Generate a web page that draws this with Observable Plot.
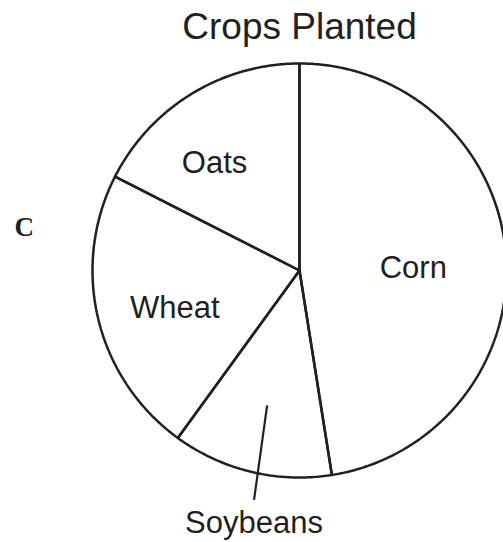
<!DOCTYPE html>
<html><head><meta charset="utf-8">
<script src="https://cdn.jsdelivr.net/npm/d3@7"></script>
<script src="https://cdn.jsdelivr.net/npm/@observablehq/plot@0.6"></script>
<style>body{margin:0;background:#fff}</style>
</head><body><div id="chart"></div>
<script>
// ---- data ----
const title = "Crops Planted";
const panelLetter = "C";
const crops = ["Corn", "Soybeans", "Wheat", "Oats"];
const shares = [47.5, 12.5, 22.5, 17.5];

// ---- geometry derived from data ----
const ink = "#231f20";
const sans = "Liberation Sans, Arial, Helvetica, sans-serif";
const arcs = d3.pie().sort(null)(shares); // clockwise from 12 o'clock
const pt = (a, r) => ({x: r * Math.sin(a), y: r * Math.cos(a)});

const outline = arcs.flatMap((s, i) => {
  const n = Math.max(2, Math.ceil((s.endAngle - s.startAngle) / 0.01));
  const pts = [pt(0, 0)];
  for (let k = 0; k <= n; ++k) pts.push(pt(s.startAngle + (s.endAngle - s.startAngle) * k / n, 1));
  pts.push(pt(0, 0));
  return pts.map(p => ({...p, crop: crops[i]}));
});

const labels = arcs.map((s, i) => ({crop: crops[i], mid: (s.startAngle + s.endAngle) / 2, inside: shares[i] >= 15}));
const inner = labels.filter(d => d.inside).map(d => ({...d, ...pt(d.mid, 0.6)}));
const outer = labels.filter(d => !d.inside).map(d => {
  const a = pt(d.mid, 0.67), b = pt(d.mid - 0.04, 1.13);
  return {...d, x1: a.x, y1: a.y, x2: b.x, y2: b.y};
});

// small typographic nudges (pixels) for the in-slice labels
const nudge = {Corn: [-10, 7], Wheat: [-4, 9], Oats: [-20, -2]};
const innerMarks = inner.map(d => Plot.text([d], {
  x: "x", y: "y", text: "crop", fontSize: 31, fontFamily: sans, fill: ink, lineAnchor: "middle",
  dx: (nudge[d.crop] || [0, 0])[0], dy: (nudge[d.crop] || [0, 0])[1]
}));

const chart = Plot.plot({
  width: 503,
  height: 542,
  margin: 0,
  style: {background: "#fff"},
  x: {domain: [-1, 1], range: [92, 506], axis: null},
  y: {domain: [-1, 1], range: [477, 63], axis: null},
  marks: [
    Plot.line(outline, {x: "x", y: "y", z: "crop", stroke: ink, strokeWidth: 2.5, strokeLinejoin: "miter", fill: "none"}),
    ...innerMarks,
    Plot.link(outer, {x1: "x1", y1: "y1", x2: "x2", y2: "y2", stroke: ink, strokeWidth: 2.2}),
    Plot.text(outer, {x: "x2", y: "y2", text: "crop", fontSize: 31, fontFamily: sans, fill: ink, lineAnchor: "top", dy: 11}),
    Plot.text([title], {x: () => 0, frameAnchor: "top", lineAnchor: "top", dy: 12, fontSize: 37, fontFamily: sans, fill: ink}),
    Plot.text([panelLetter], {frameAnchor: "left", textAnchor: "start", lineAnchor: "middle", dx: 14, dy: -44, fontSize: 27, fontWeight: "bold", fontFamily: "Liberation Serif, DejaVu Serif, serif", fill: ink})
  ]
});
document.getElementById("chart").append(chart);
</script>
</body></html>
